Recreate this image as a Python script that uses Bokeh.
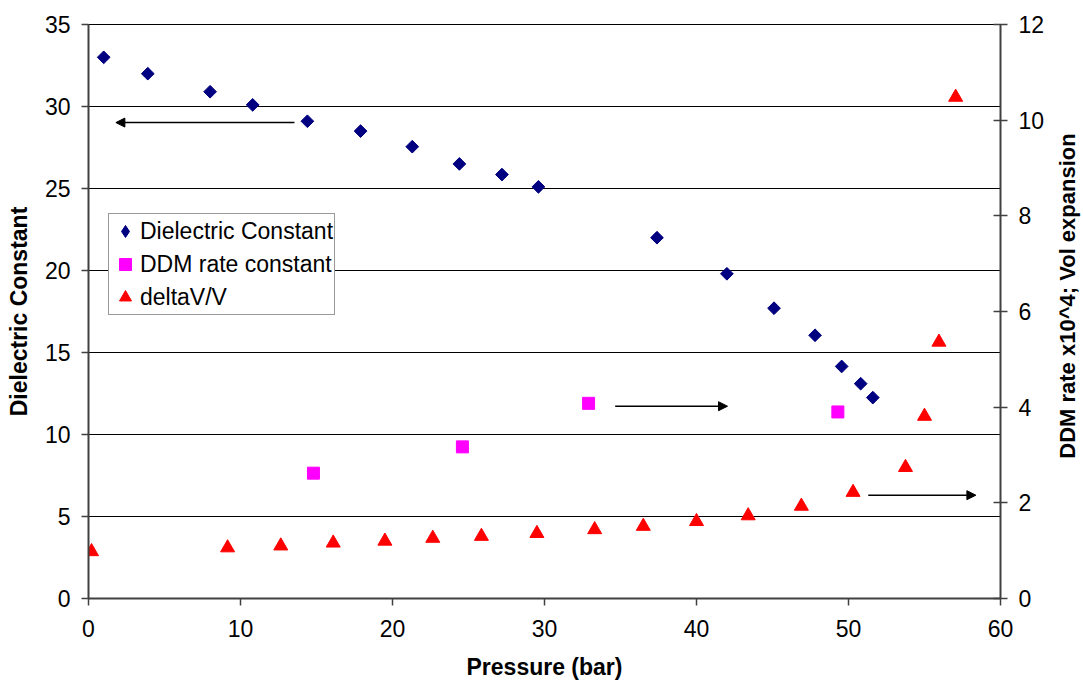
from bokeh.plotting import figure
from bokeh.models import (Range1d, LinearAxis, Legend, LegendItem, Arrow, NormalHead,
                          FixedTicker, Label)
from bokeh.layouts import row
from bokeh.embed import file_html
from bokeh.resources import INLINE
import math

# ---- data ----
p_diel = [1.0, 3.9, 8.0, 10.8, 14.4, 17.9, 21.3, 24.4, 27.2, 29.6, 37.4, 42.0, 45.1, 47.8, 49.55, 50.8, 51.6]
diel_const = [33.0, 32.0, 30.9, 30.1, 29.1, 28.5, 27.55, 26.5, 25.85, 25.1, 22.0, 19.8, 17.7, 16.05, 14.15, 13.1, 12.25]

p_ddm = [14.8, 24.6, 32.9, 49.3]
ddm_rate = [2.62, 3.17, 4.08, 3.90]

p_dv = [0.2, 9.15, 12.65, 16.1, 19.5, 22.65, 25.85, 29.5, 33.3, 36.5, 40.0, 43.4, 46.9, 50.3, 53.75, 55.0, 55.95, 57.05]
delta_v = [0.98, 1.06, 1.10, 1.16, 1.20, 1.26, 1.30, 1.36, 1.44, 1.51, 1.61, 1.73, 1.93, 2.22, 2.74, 3.81, 5.36, 10.48]

x_ticks = [0, 10, 20, 30, 40, 50, 60]
y_left_ticks = [0, 5, 10, 15, 20, 25, 30, 35]
y_right_ticks = [0, 2, 4, 6, 8, 10, 12]

x_label = "Pressure (bar)"
y_left_label = "Dielectric Constant"
y_right_label = "DDM rate x10^4; Vol expansion"

# arrows: (x_start, x_end, y, axis)
arrows = [
    (13.55, 1.8, 29.02, "default"),
    (34.65, 42.04, 4.02, "right"),
    (51.3, 58.38, 2.16, "right"),
]

FONT = "Liberation Sans"
AXIS_COL = "#404040"
MAIN_W, STRIP_W, H = 1048, 35, 687

p = figure(width=MAIN_W, height=H, output_backend="svg", toolbar_location=None,
           x_range=Range1d(0, 60), y_range=Range1d(0, 35),
           min_border_left=88, min_border_right=48, min_border_top=24, min_border_bottom=89)
p.extra_y_ranges = {"right": Range1d(0, 12)}
p.outline_line_color = "black"
p.outline_line_width = 1
p.background_fill_color = "white"
p.border_fill_color = "white"

p.xgrid.visible = False
p.ygrid.grid_line_color = "black"
p.ygrid.grid_line_width = 1
p.ygrid.ticker = FixedTicker(ticks=y_left_ticks)

xa = p.xaxis[0]
xa.ticker = FixedTicker(ticks=x_ticks)
xa.axis_label = x_label

ya = p.yaxis[0]
ya.ticker = FixedTicker(ticks=y_left_ticks)
ya.axis_label = y_left_label

yr = LinearAxis(y_range_name="right", ticker=FixedTicker(ticks=y_right_ticks))
p.add_layout(yr, "right")

for ax in (xa, ya, yr):
    ax.axis_line_color = AXIS_COL
    ax.axis_line_width = 2
    ax.major_tick_line_color = AXIS_COL
    ax.major_tick_line_width = 1.5
    ax.minor_tick_line_color = None
    ax.major_tick_out = 7
    ax.major_tick_in = 0
    ax.major_label_text_font = FONT
    ax.major_label_text_font_size = "23px"
    ax.major_label_text_color = "black"
    ax.axis_label_text_font = FONT
    ax.axis_label_text_font_size = "23px"
    ax.axis_label_text_font_style = "bold"
    ax.axis_label_text_color = "black"
yr.major_tick_in = 7
xa.major_label_standoff = 14
ya.major_label_standoff = 11
yr.major_label_standoff = 11
xa.axis_label_standoff = 14
ya.axis_label_standoff = 10

# hidden legend stand-in (diamond marker) drawn beneath the rotated squares
r_diel_leg = p.scatter(p_diel, diel_const, marker="diamond", size=11,
                       fill_color="#000080", line_color="#000080")
r_diel = p.scatter(p_diel, diel_const, marker="square", size=9, angle=math.pi / 4,
                   fill_color="#000080", line_color="#000080")
r_ddm = p.scatter(p_ddm, ddm_rate, marker="square", size=12, y_range_name="right",
                  fill_color="#FF00FF", line_color="#FF00FF")
r_dv = p.scatter(p_dv, delta_v, marker="triangle", size=14, y_range_name="right",
                 fill_color="#FF0000", line_color="#FF0000")

for xs, xe, yy, rn in arrows:
    p.add_layout(Arrow(end=NormalHead(size=9, fill_color="black", line_color="black"),
                       x_start=xs, y_start=yy, x_end=xe, y_end=yy,
                       line_color="black", line_width=1.5, y_range_name=rn))

legend = Legend(items=[
    LegendItem(label="Dielectric Constant", renderers=[r_diel_leg]),
    LegendItem(label="DDM rate constant", renderers=[r_ddm]),
    LegendItem(label="deltaV/V", renderers=[r_dv]),
], location=(20, 283))
legend.label_text_font = FONT
legend.label_text_font_size = "23px"
legend.label_text_color = "black"
legend.padding = 1
legend.spacing = 1
legend.margin = 0
legend.glyph_width = 30
legend.glyph_height = 32
legend.label_height = 32
legend.label_standoff = 0
legend.border_line_color = "#333333"
legend.border_line_width = 1.5
legend.background_fill_color = "white"
legend.background_fill_alpha = 1
p.add_layout(legend)

# narrow strip on the right carrying the secondary-axis title (reads bottom-to-top)
p2 = figure(width=STRIP_W, height=H, output_backend="svg", toolbar_location=None,
            x_range=Range1d(0, STRIP_W), y_range=Range1d(0, H),
            x_axis_location=None, y_axis_location=None, min_border=0)
p2.grid.visible = False
p2.outline_line_color = None
p2.background_fill_color = "white"
p2.border_fill_color = "white"
p2.add_layout(Label(x=19, y=H - 325, text=y_right_label, angle=math.pi / 2,
                    text_align="center", text_baseline="middle",
                    text_font=FONT, text_font_size="22px", text_font_style="bold",
                    text_color="black"))

layout = row(p, p2, spacing=0)
open("out.html", "w").write(file_html(layout, INLINE))
